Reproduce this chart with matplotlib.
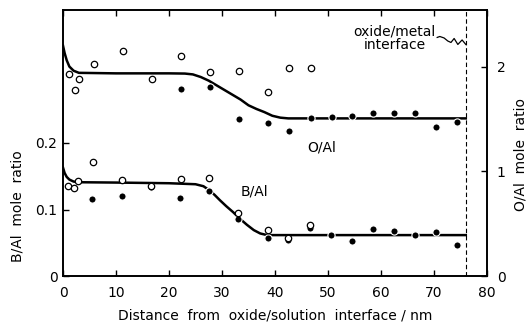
import matplotlib
matplotlib.use('Agg')
import matplotlib.pyplot as plt

plt.rcParams['font.family'] = ['DejaVu Sans']

# B/Al mole ratio (left axis)
b_open_x = [1.0, 2.1, 2.9, 5.7, 11.1, 16.6, 22.2, 27.6, 33.1, 38.6, 42.4, 46.6]
b_open_y = [0.135, 0.132, 0.143, 0.172, 0.144, 0.136, 0.146, 0.148, 0.094, 0.069, 0.057, 0.076]
b_fill_x = [5.5, 11.1, 16.6, 22.1, 27.6, 33.1, 38.6, 42.5, 46.6, 50.6, 54.5, 58.5, 62.5, 66.4, 70.4, 74.3]
b_fill_y = [0.116, 0.120, 0.134, 0.117, 0.128, 0.085, 0.057, 0.054, 0.072, 0.062, 0.053, 0.071,
            0.068, 0.062, 0.066, 0.047]
b_curve_x = [0.0, 0.3, 0.7, 1.2, 2.0, 3.0, 10, 20, 25, 26.5, 27.6, 28.6, 29.6, 30.8, 32.1,
             33.4, 34.7, 36.0, 37.2, 38.5, 40, 50, 76]
b_curve_y = [0.163, 0.155, 0.149, 0.145, 0.142, 0.141, 0.1405, 0.1395, 0.138, 0.135, 0.129,
             0.122, 0.114, 0.105, 0.096, 0.086, 0.077, 0.069, 0.064, 0.0615, 0.0615, 0.0615, 0.0615]

# O/Al mole ratio (right axis)
o_open_x = [1.2, 2.3, 3.0, 5.9, 11.3, 16.7, 22.3, 27.8, 33.3, 38.7, 42.6, 46.7]
o_open_y = [1.93, 1.78, 1.885, 2.02, 2.15, 1.88, 2.10, 1.945, 1.96, 1.76, 1.99, 1.99]
o_fill_x = [22.3, 27.8, 33.3, 38.7, 42.6, 46.7, 50.7, 54.5, 58.5, 62.5, 66.4, 70.4, 74.3]
o_fill_y = [1.79, 1.80, 1.495, 1.46, 1.38, 1.505, 1.52, 1.53, 1.56, 1.555, 1.555, 1.42, 1.47]
o_curve_x = [0.0, 0.3, 0.7, 1.2, 2.0, 3.0, 10, 20, 23, 24.5, 26, 27.5, 29, 30.5, 32, 33.5,
             35, 36.5, 38, 39.5, 41, 42.5, 76]
o_curve_y = [2.20, 2.13, 2.06, 2.00, 1.96, 1.94, 1.935, 1.935, 1.933, 1.925, 1.90, 1.865,
             1.82, 1.775, 1.73, 1.685, 1.63, 1.595, 1.565, 1.53, 1.512, 1.505, 1.505]

interface_x = 76.0

fig = plt.figure(figsize=(5.28, 3.22), dpi=100)
ax = fig.add_axes([63 / 528, 46 / 322, 424 / 528, 266 / 322])
ax2 = ax.twinx()

# curves
ax.plot(b_curve_x, b_curve_y, color='black', lw=1.8, zorder=2)
ax2.plot(o_curve_x, o_curve_y, color='black', lw=1.8, zorder=2)

# points (white rim on the filled dots breaks the curve like the original)
ax.plot(b_fill_x, b_fill_y, 'o', ms=5.2, mfc='black', mec='white', mew=0.8, zorder=3)
ax.plot(b_open_x, b_open_y, 'o', ms=4.6, mfc='white', mec='black', mew=0.9, zorder=4)
ax2.plot(o_fill_x, o_fill_y, 'o', ms=5.2, mfc='black', mec='white', mew=0.8, zorder=3)
ax2.plot(o_open_x, o_open_y, 'o', ms=4.6, mfc='white', mec='black', mew=0.9, zorder=4)

# interface line
ax.axvline(interface_x, color='black', lw=0.8, ls=(0, (4, 2.5)), zorder=1)

ax.set_xlim(0, 80)
ax.set_ylim(0, 0.40)
ax2.set_ylim(0, 2.54)
ax.set_xticks(range(0, 81, 10))
ax.set_yticks([0, 0.1, 0.2])
ax.set_yticklabels(['0', '0.1', '0.2'])
ax2.set_yticks([0, 1, 2])
ax2.set_yticklabels(['0', '1', '2'])

for a in (ax, ax2):
    for s in a.spines.values():
        s.set_linewidth(1.2)
ax.tick_params(axis='x', direction='in', length=4, width=1, top=True, labelsize=10, pad=7)
ax.tick_params(axis='y', direction='in', length=4, width=1, labelsize=10, pad=4)
ax2.tick_params(axis='y', direction='in', length=4, width=1, labelsize=10, pad=7)

ax.set_xlabel('Distance  from  oxide/solution  interface / nm', fontsize=10, labelpad=6)
fig.text(18 / 528, 0.36, 'B/Al  mole  ratio', rotation=90, fontsize=10, ha='center', va='center')
fig.text(521 / 528, 0.52, 'O/Al  mole  ratio', rotation=90, fontsize=10, ha='center', va='center')

ax2.text(48.9, 1.225, 'O/Al', fontsize=10, ha='center', va='center')
ax.text(36.2, 0.127, 'B/Al', fontsize=10, ha='center', va='center')
ax2.text(62.6, 2.268, 'oxide/metal\ninterface', fontsize=10, ha='center', va='center',
         linespacing=0.95)

# wiggly pointer towards the interface line
zig_x = [70.6, 71.1, 71.9, 72.6, 73.2, 73.8, 74.5, 75.3, 76.0]
zig_y = [2.278, 2.287, 2.273, 2.244, 2.230, 2.268, 2.211, 2.254, 2.211]
ax2.plot(zig_x, zig_y, color='black', lw=0.9, zorder=5)

fig.savefig('out.png', dpi=100)
